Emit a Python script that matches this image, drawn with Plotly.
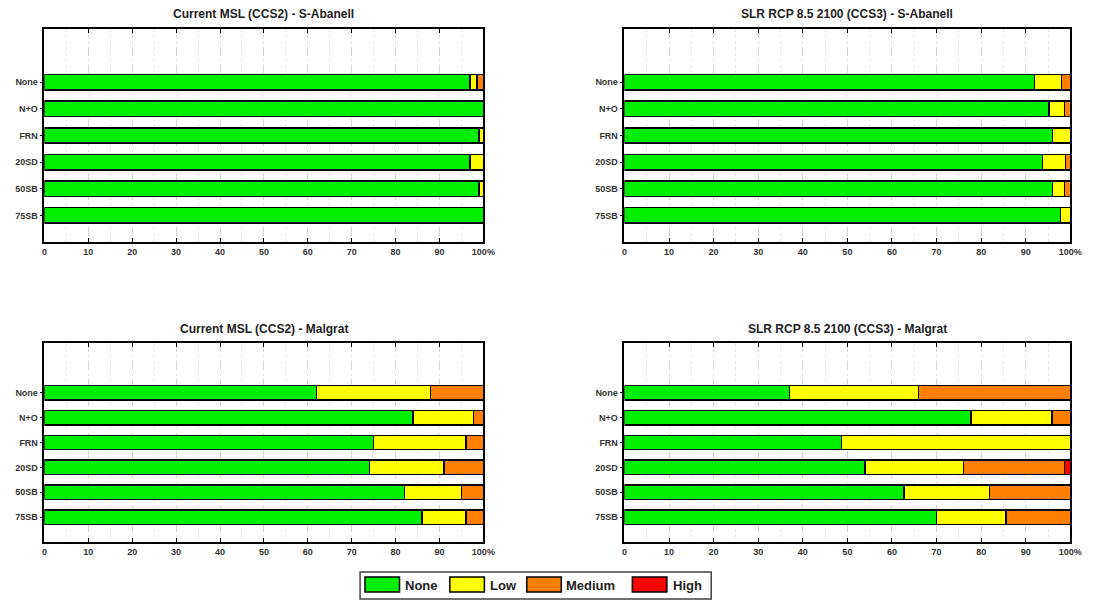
import plotly.graph_objects as go

# ---------------- data ----------------
categories = ["None", "N+O", "FRN", "20SD", "50SB", "75SB"]
levels = ["None", "Low", "Medium", "High"]
level_colors = ["#00EE00", "#FFFF00", "#FF8000", "#FF0000"]

panel_titles = [
    "Current MSL (CCS2) - S-Abanell",
    "SLR RCP 8.5 2100 (CCS3) - S-Abanell",
    "Current MSL (CCS2) - Malgrat",
    "SLR RCP 8.5 2100 (CCS3) - Malgrat",
]

# S-Abanell, current MSL (CCS2)
abanell_ccs2_none = [97.0, 100.0, 99.0, 97.0, 99.0, 100.0]
abanell_ccs2_low = [1.5, 0.0, 1.0, 3.0, 1.0, 0.0]
abanell_ccs2_medium = [1.5, 0.0, 0.0, 0.0, 0.0, 0.0]
abanell_ccs2_high = [0.0, 0.0, 0.0, 0.0, 0.0, 0.0]

# S-Abanell, SLR RCP 8.5 2100 (CCS3)
abanell_ccs3_none = [92.0, 95.2, 96.0, 93.8, 96.0, 97.8]
abanell_ccs3_low = [6.0, 3.5, 4.0, 5.1, 2.7, 2.2]
abanell_ccs3_medium = [2.0, 1.3, 0.0, 1.1, 1.3, 0.0]
abanell_ccs3_high = [0.0, 0.0, 0.0, 0.0, 0.0, 0.0]

# Malgrat, current MSL (CCS2)
malgrat_ccs2_none = [62.0, 84.0, 75.0, 74.0, 82.0, 86.0]
malgrat_ccs2_low = [26.0, 13.8, 21.0, 17.0, 13.0, 10.0]
malgrat_ccs2_medium = [12.0, 2.2, 4.0, 9.0, 5.0, 4.0]
malgrat_ccs2_high = [0.0, 0.0, 0.0, 0.0, 0.0, 0.0]

# Malgrat, SLR RCP 8.5 2100 (CCS3)
malgrat_ccs3_none = [37.0, 77.7, 48.7, 54.0, 62.7, 70.0]
malgrat_ccs3_low = [29.0, 18.2, 51.3, 22.0, 19.2, 15.6]
malgrat_ccs3_medium = [34.0, 4.1, 0.0, 22.7, 18.1, 14.4]
malgrat_ccs3_high = [0.0, 0.0, 0.0, 1.3, 0.0, 0.0]

x_tick_vals = [0, 10, 20, 30, 40, 50, 60, 70, 80, 90, 100]
x_tick_text = ["0", "10", "20", "30", "40", "50", "60", "70", "80", "90", "100%"]

panels = [
    [abanell_ccs2_none, abanell_ccs2_low, abanell_ccs2_medium, abanell_ccs2_high],
    [abanell_ccs3_none, abanell_ccs3_low, abanell_ccs3_medium, abanell_ccs3_high],
    [malgrat_ccs2_none, malgrat_ccs2_low, malgrat_ccs2_medium, malgrat_ccs2_high],
    [malgrat_ccs3_none, malgrat_ccs3_low, malgrat_ccs3_medium, malgrat_ccs3_high],
]

# ---------------- layout geometry ----------------
W, H = 1104, 600
x_domains = [[42 / W, 487 / W], [630 / W, 1082 / W]]
y_domains = [[1 - 242 / H, 1 - 29 / H], [1 - 542 / H, 1 - 343 / H]]
title_y = [1 - 14 / H, 1 - 329 / H]

FONT = "Liberation Sans, Arial, sans-serif"

fig = go.Figure()
layout = dict(
    width=W, height=H,
    margin=dict(l=0, r=0, t=0, b=0),
    paper_bgcolor="white", plot_bgcolor="white",
    barmode="stack", bargap=0.42,
    showlegend=False,
    font=dict(family=FONT, color="#222"),
)

annotations = []
for p, series in enumerate(panels):
    r, c = divmod(p, 2)
    idx = "" if p == 0 else str(p + 1)
    xa, ya = "x" + idx, "y" + idx
    for lvl, vals in enumerate(series):
        fig.add_trace(go.Bar(
            y=categories, x=vals, orientation="h",
            name=levels[lvl],
            marker=dict(color=level_colors[lvl], line=dict(color="black", width=1.5)),
            xaxis=xa, yaxis=ya, showlegend=False,
            hovertemplate="%{y}: %{x}%<extra>" + levels[lvl] + "</extra>",
        ))
    layout["xaxis" + idx] = dict(
        domain=x_domains[c], anchor=ya, range=[0, 100],
        tickvals=x_tick_vals, ticktext=x_tick_text,
        tickfont=dict(size=9, color="#333", family=FONT, weight="bold"),
        ticks="inside", ticklen=4, tickcolor="black",
        showline=True, linecolor="black", linewidth=1.5, mirror="ticks",
        showgrid=True, gridcolor="#d4d4d4", griddash="dash", gridwidth=1,
        minor=dict(dtick=5, showgrid=True, gridcolor="#e6e6e6", griddash="dot", ticks=""),
        zeroline=False, fixedrange=True,
    )
    layout["yaxis" + idx] = dict(
        domain=y_domains[r], anchor=xa,
        type="category", categoryorder="array", categoryarray=categories[::-1],
        range=[-1, 7],
        tickfont=dict(size=9, color="#333", family=FONT, weight="bold"),
        ticks="outside", ticklen=3, tickcolor="black",
        showline=True, linecolor="black", linewidth=1.5, mirror=True,
        showgrid=False, zeroline=False, fixedrange=True,
    )
    annotations.append(dict(
        text="<b>" + panel_titles[p] + "</b>",
        x=sum(x_domains[c]) / 2, y=title_y[r], xref="paper", yref="paper",
        xanchor="center", yanchor="middle", showarrow=False,
        font=dict(size=12, color="#222", family=FONT),
    ))

# ---------------- custom legend ----------------
shapes = [dict(type="rect", xref="paper", yref="paper",
               x0=362 / W, x1=718 / W, y0=1 - 599 / H, y1=1 - 572 / H,
               line=dict(color="#444", width=1.5), fillcolor="white")]
swatch_x = [367, 453, 531, 638]
text_x = [406, 492, 569, 677]
for i, lvl in enumerate(levels):
    shapes.append(dict(type="rect", xref="paper", yref="paper",
                       x0=swatch_x[i] / W, x1=(swatch_x[i] + 35) / W,
                       y0=1 - 592 / H, y1=1 - 577 / H,
                       line=dict(color="black", width=1.5), fillcolor=level_colors[i]))
    annotations.append(dict(
        text="<b>" + lvl + "</b>", x=text_x[i] / W, y=1 - 585 / H,
        xref="paper", yref="paper", xanchor="left", yanchor="middle",
        showarrow=False, font=dict(size=13, color="#222", family=FONT),
    ))

layout["annotations"] = annotations
layout["shapes"] = shapes
fig.update_layout(**layout)
fig.write_html("out.html")
